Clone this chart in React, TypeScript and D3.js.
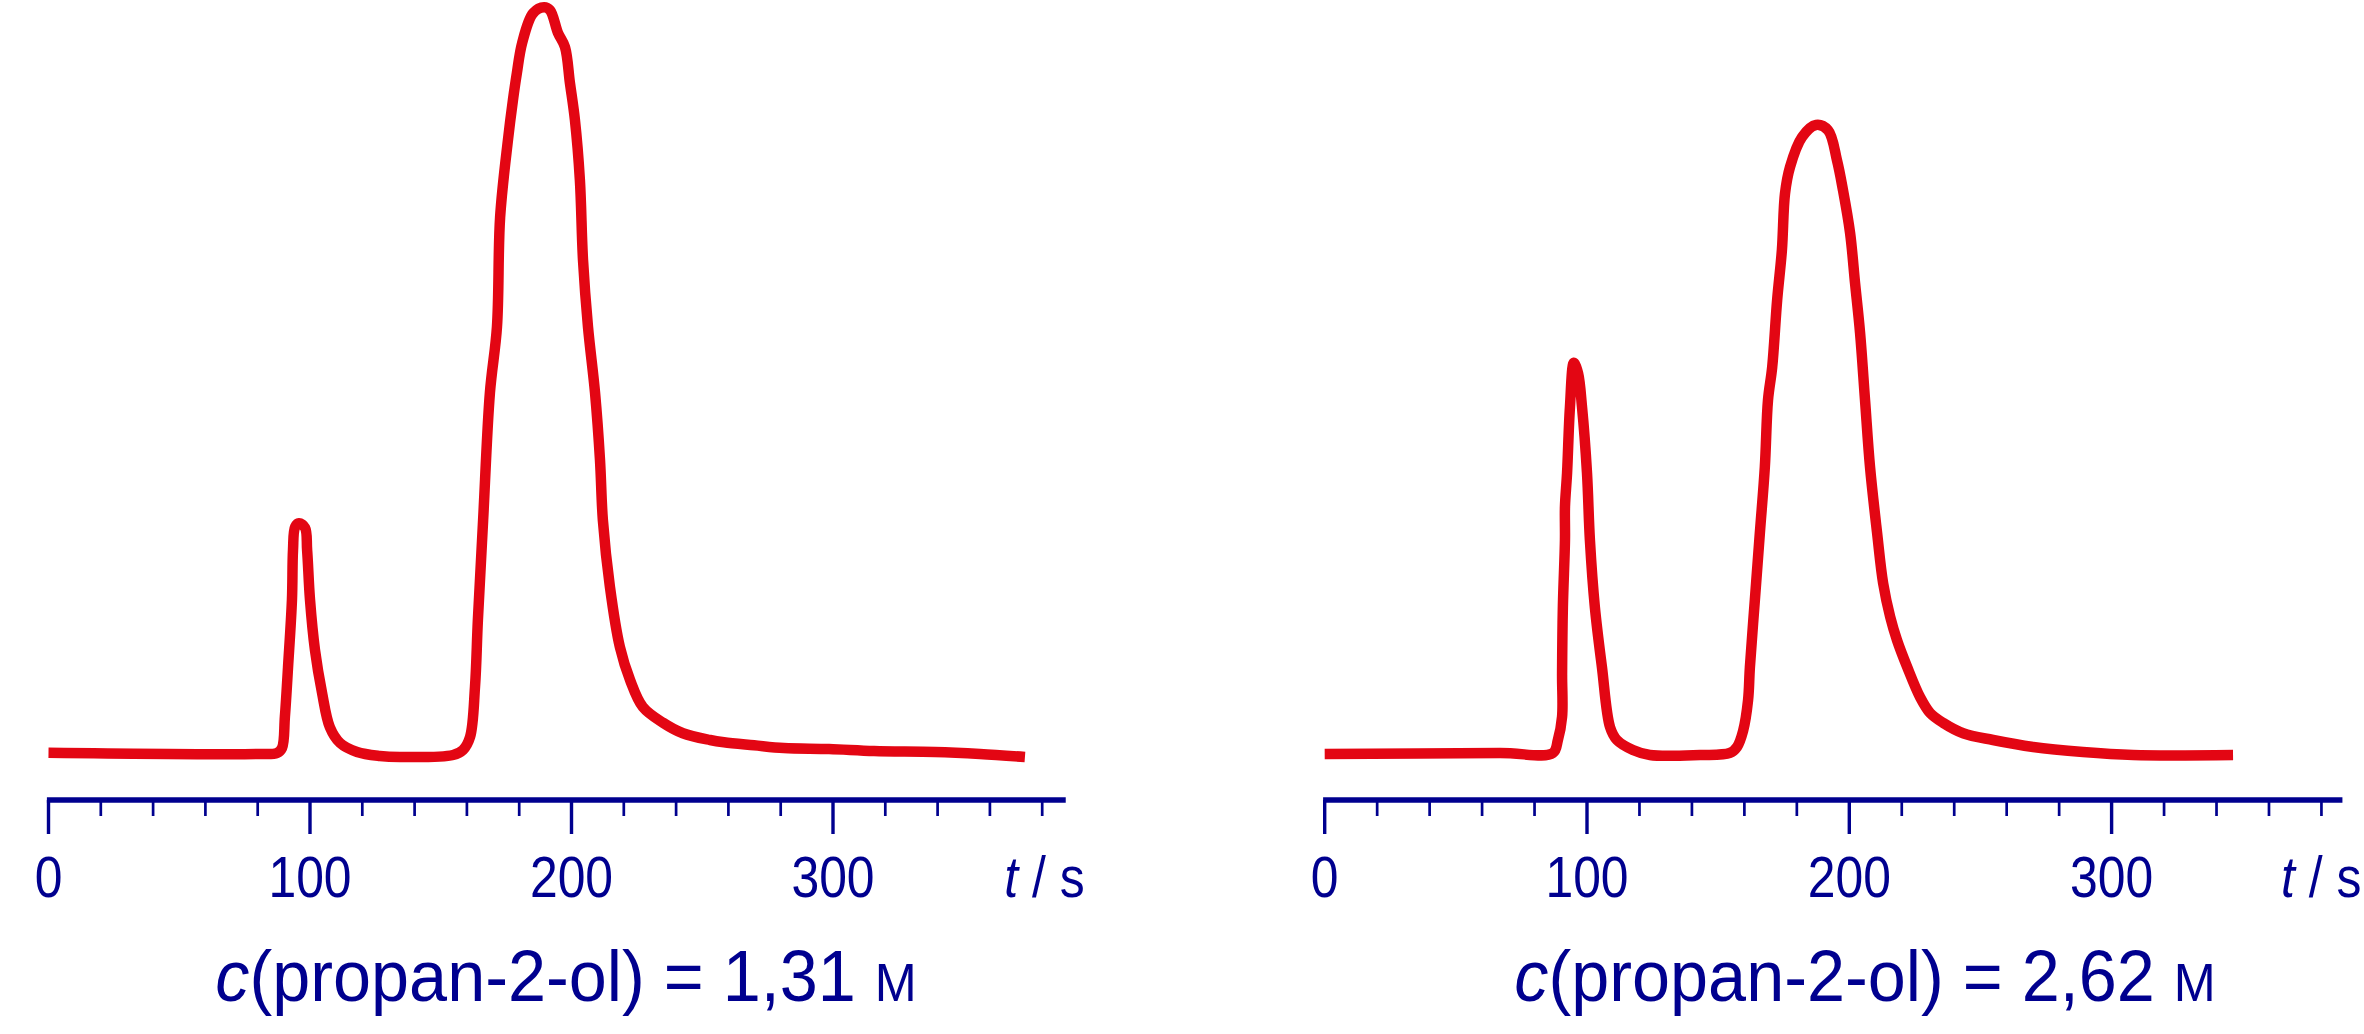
import React from "react";
import * as d3 from "d3";

// ---------- data ----------
const leftTime = [0, 79.4, 87.4, 89.3, 90.4, 91.6, 93.1, 93.5, 94.3, 95.8, 98.1, 98.9, 100.0, 101.9, 104.6, 107.6, 111.5, 118.0, 126.7, 134.4, 154.7, 158.5, 161.2, 163.1, 164.2, 166.2, 168.8, 171.5, 172.7, 175.7, 177.6, 179.1, 181.1, 185.3, 189.5, 191.8, 194.8, 197.5, 199.4, 201.3, 203.2, 204.4, 206.3, 209.0, 210.9, 212.0, 214.7, 218.5, 222.4, 227.3, 235.0, 242.6, 253.0, 258.3, 269.8, 281.2, 298.5, 315.7, 339.0, 356.2, 373.4];
const leftSignal = [0.3, 0.13, 0.27, 0.93, 5.1, 11.7, 20.7, 27.3, 30.4, 30.9, 30.3, 27.3, 20.7, 14.0, 8.3, 3.7, 1.6, 0.4, -0.13, -0.27, 0, 0.67, 2.4, 9.1, 18.0, 31.3, 48.3, 57.1, 71.7, 82.0, 87.3, 90.9, 94.9, 98.9, 99.7, 99.3, 96.3, 94.4, 89.6, 84.7, 76.7, 66.0, 57.1, 48.3, 39.3, 31.3, 22.4, 14.4, 10.0, 6.4, 4.3, 2.9, 2.0, 1.7, 1.3, 0.93, 0.8, 0.53, 0.4, 0.13, -0.27];

const rightTime = [0, 66.8, 87.0, 88.9, 90.5, 90.5, 90.8, 91.6, 91.6, 92.4, 93.5, 95.0, 96.6, 98.1, 100.0, 101.1, 103.0, 105.7, 108.8, 111.4, 117.5, 124.0, 143.1, 154.5, 157.2, 159.5, 161.4, 162.1, 164.0, 165.9, 167.8, 169.0, 170.6, 172.5, 174.3, 175.5, 177.4, 182.0, 187.3, 191.9, 195.3, 197.6, 200.3, 202.2, 204.1, 206.0, 207.9, 210.6, 212.9, 215.6, 218.2, 222.1, 227.0, 230.8, 235.7, 243.4, 254.8, 270.1, 289.1, 308.2, 346.3];
const rightSignal = [0.13, 0.27, 0.27, 2.0, 5.1, 10.9, 19.7, 28.7, 33.1, 37.6, 46.4, 52.3, 50.9, 46.4, 37.6, 28.7, 19.7, 11.7, 3.7, 2.0, 0.67, 0, 0, 0.27, 1.07, 3.2, 7.3, 11.7, 20.7, 29.6, 38.4, 47.3, 51.7, 60.7, 67.3, 74.9, 78.4, 82.4, 84.0, 83.3, 79.3, 75.3, 69.6, 62.9, 56.3, 47.3, 38.4, 29.6, 22.9, 18.4, 15.3, 11.7, 7.7, 5.6, 4.3, 2.9, 2.0, 1.07, 0.4, 0, 0];

const majorTicks = [0, 100, 200, 300];
const minorTicks = [20, 40, 60, 80, 120, 140, 160, 180, 220, 240, 260, 280, 320, 340, 360, 380];
const axisLabel = ["t", " / s"];
const leftTitleValue = "1,31";
const rightTitleValue = "2,62";

// ---------- style ----------
const BLUE = "#00008f";
const RED = "#e30613";
const FONT = "'Liberation Sans', Arial, Helvetica, sans-serif";

type PanelProps = {
  time: number[];
  signal: number[];
  x0: number;
  px100: number;
  tEnd: number;
  titleX: number;
  value: string;
};

const yScale = d3.scaleLinear().domain([0, 100]).range([755, 5]);
const AXIS_Y = 800;
const LABEL_Y = 897;
const TITLE_Y = 1001;
const TICK_SX = 0.86;
const TITLE_SX = 0.95;

function Panel({ time, signal, x0, px100, tEnd, titleX, value }: PanelProps) {
  const x = d3.scaleLinear().domain([0, 100]).range([x0, x0 + px100]);
  const pts: [number, number][] = time.map((t, i) => [t, signal[i]]);
  const line = d3
    .line<[number, number]>()
    .x((d) => x(d[0]))
    .y((d) => yScale(d[1]))
    .curve(d3.curveCatmullRom.alpha(0.5));
  return (
    <g>
      <path
        d={line(pts) || ""}
        fill="none"
        stroke={RED}
        strokeWidth={10.5}
        strokeLinejoin="round"
        strokeLinecap="butt"
      />
      <line
        x1={x(0) - 1.6}
        x2={x(tEnd)}
        y1={AXIS_Y}
        y2={AXIS_Y}
        stroke={BLUE}
        strokeWidth={5.5}
      />
      {majorTicks.map((t) => (
        <line
          key={"M" + t}
          x1={x(t)}
          x2={x(t)}
          y1={AXIS_Y}
          y2={834}
          stroke={BLUE}
          strokeWidth={3.4}
        />
      ))}
      {minorTicks.map((t) => (
        <line
          key={"m" + t}
          x1={x(t)}
          x2={x(t)}
          y1={AXIS_Y}
          y2={816}
          stroke={BLUE}
          strokeWidth={2.7}
        />
      ))}
      {majorTicks.map((t) => (
        <g key={"L" + t} transform={`translate(${x(t)},${LABEL_Y}) scale(${TICK_SX},1)`}>
          <text
            x={0}
            y={0}
            fill={BLUE}
            fontSize={58}
            fontFamily={FONT}
            textAnchor="middle"
          >
            {t}
          </text>
        </g>
      ))}
      <g transform={`translate(${x(tEnd) + 19},${LABEL_Y}) scale(${TICK_SX},1)`}>
        <text x={0} y={0} fill={BLUE} fontSize={58} fontFamily={FONT} textAnchor="end">
          <tspan fontStyle="italic">{axisLabel[0]}</tspan>
          <tspan>{axisLabel[1]}</tspan>
        </text>
      </g>
      <g transform={`translate(${titleX},${TITLE_Y}) scale(${TITLE_SX},1)`}>
        <text x={0} y={0} fill={BLUE} fontSize={72} fontFamily={FONT} textAnchor="middle">
          <tspan fontStyle="italic">c</tspan>
          <tspan>{"(propan-2-ol) = " + value + " "}</tspan>
          <tspan fontSize={53}>M</tspan>
        </text>
      </g>
    </g>
  );
}

export default function App() {
  return (
    <svg
      width={2364}
      height={1034}
      viewBox="0 0 2364 1034"
      style={{ position: "absolute", left: 0, top: 0, background: "#fff" }}
    >
      <rect x={0} y={0} width={2364} height={1034} fill="#fff" />
      <Panel
        time={leftTime}
        signal={leftSignal}
        x0={48.5}
        px100={261.5}
        tEnd={389}
        titleX={566}
        value={leftTitleValue}
      />
      <Panel
        time={rightTime}
        signal={rightSignal}
        x0={1324.7}
        px100={262.3}
        tEnd={388}
        titleX={1865}
        value={rightTitleValue}
      />
    </svg>
  );
}
